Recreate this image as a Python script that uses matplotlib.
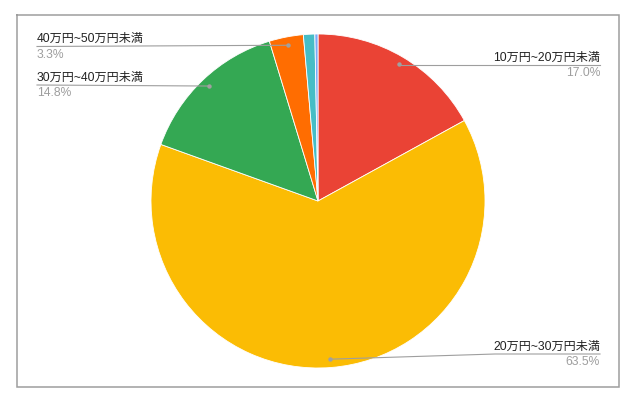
import matplotlib
matplotlib.use("Agg")
import matplotlib.pyplot as plt
import numpy as np

plt.rcParams['font.family'] = ['Liberation Sans', 'Noto Sans CJK JP', 'DejaVu Sans']

categories = ["10万円~20万円未満", "20万円~30万円未満", "30万円~40万円未満",
              "40万円~50万円未満", "50万円~60万円未満", "60万円以上"]
values = [17.0, 63.5, 14.8, 3.3, 1.1, 0.3]
pct_labels = ["17.0%", "63.5%", "14.8%", "3.3%", None, None]
colors = ["#ea4335", "#fbbc04", "#34a853", "#ff6d01", "#46bdc6", "#7baaf7"]

W, H = 638, 411
fig = plt.figure(figsize=(W / 100, H / 100), dpi=100)
ax = fig.add_axes([0, 0, 1, 1])
ax.set_xlim(0, W)
ax.set_ylim(0, H)
ax.set_aspect('equal')
ax.axis('off')

def py(y):
    return H - y

# frame
ax.plot([17, 619, 619, 17, 17], [py(15), py(15), py(387), py(387), py(15)],
        color="#9e9e9e", lw=1.1, solid_joinstyle='miter')

cx, cy, R = 318, py(201), 167
wedges, _ = ax.pie(values, colors=colors, startangle=90, counterclock=False,
                   center=(cx, cy), radius=R,
                   wedgeprops=dict(edgecolor="white", linewidth=0.6))
ax.set_xlim(0, W)
ax.set_ylim(0, H)

layout = {
    0: dict(x=600, y=65, ha='right'),
    1: dict(x=600, y=354, ha='right', bend=495),
    2: dict(x=37, y=85, ha='left'),
    3: dict(x=37, y=46.5, ha='left'),
}
line_c = "#9e9e9e"
for i, lay in layout.items():
    w = wedges[i]
    mid = np.deg2rad((w.theta1 + w.theta2) / 2)
    dx, dy = cx + 0.95 * R * np.cos(mid), cy + 0.95 * R * np.sin(mid)
    ly = py(lay['y'])
    tx = lay['x']
    if lay['ha'] == 'right':
        bend = lay.get('bend', dx)
        xs = [dx, bend, tx]
        ys = [dy, ly, ly]
    else:
        xs = [tx, dx]
        ys = [ly, dy]
    ax.plot(xs, ys, color=line_c, lw=0.8, zorder=5)
    ax.plot([dx], [dy], 'o', color="#a0a0a0", ms=3.2, mec='none', zorder=6)
    ax.text(tx, ly + 1.5, categories[i], ha=lay['ha'], va='bottom',
            fontsize=8.7, color="#222222", zorder=7)
    ax.text(tx, ly - 2, pct_labels[i], ha=lay['ha'], va='top',
            fontsize=8.7, color="#9e9e9e", zorder=7)

fig.savefig("out.png", dpi=100, facecolor="white")
